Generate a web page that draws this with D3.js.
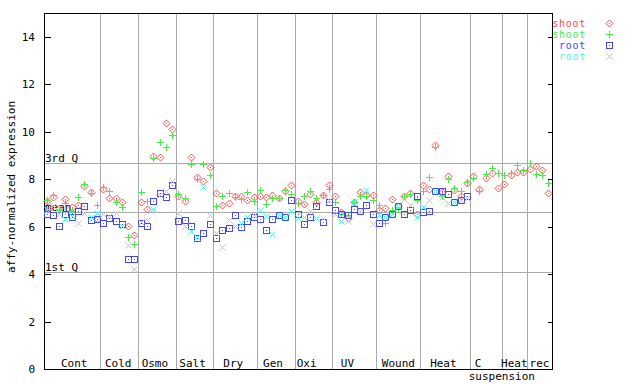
<!DOCTYPE html>
<html lang=en>
<head>
<meta charset="utf-8">
<script src="https://d3js.org/d3.v7.min.js"></script>
<style>
    body { margin: 0; background: #fff; }
    text { font-family: "DejaVu Sans Mono", monospace; font-size: 11px; fill: #000; }
    .legend text { font-size: 10px; letter-spacing: 0.7px; }
</style>
</head>
<body>
<div id="chart"></div>
<script>
// groups along the x axis, with number of samples in each
var groupNames = ["Cont", "Cold", "Osmo", "Salt", "Dry", "Gen", "Oxi", "UV", "Wound", "Heat", "C suspension", "Heat", "rec"];
var groupSizes = [9, 6, 6, 6, 7, 6, 6, 7, 7, 8, 5, 4, 4];

// shoot (red diamonds)
var shootRed = [7.08, 7.25, 6.78, 7.16, 6.82, 6.90, 7.72, 7.45, 6.31,
    7.58, 7.21, 7.21, 7.04, 6.03, 5.65,
    7.05, 6.75, 8.98, 8.93, 10.36, 10.11,
    7.30, 7.07, 8.93, 8.08, 7.91, 8.50,
    7.41, 6.90, 6.99, 7.29, 7.29, 7.13, 7.24,
    7.28, 7.24, 7.32, 7.20, 7.52, 7.75,
    7.07, 6.95, 7.37, 7.05, 7.32, 7.75,
    7.28, 6.61, 6.35, 7.05, 7.45, 7.32, 7.33,
    6.70, 6.78, 7.16, 6.88, 7.27, 7.42, 6.52,
    7.75, 7.58, 9.43, 7.45, 8.13, 7.55, 7.30, 7.83,
    8.13, 7.60, 8.04, 8.25, 7.62,
    7.79, 8.17, 8.29, 8.29,
    8.42, 8.55, 8.38, 7.41];

// shoot (green plus)
var shootGreen = [7.12, 7.32, 6.72, 6.99, 6.65, 7.25, 7.79, 7.40, 6.91,
    7.67, 7.51, 7.03, 6.84, 5.56, 5.27,
    7.45, 7.07, 8.88, 9.56, 9.35, 9.86,
    7.37, 7.20, 8.64, 8.00, 8.64, 8.17,
    6.86, 7.29, 7.41, 7.24, 7.16, 7.45, 7.07,
    7.53, 6.95, 7.20, 7.20, 7.53, 7.37,
    6.99, 7.28, 7.49, 7.20, 7.32, 7.58,
    7.03, 6.55, 6.50, 7.03, 7.28, 7.27, 7.12,
    6.90, 6.14, 6.72, 6.75, 7.28, 7.38, 7.11,
    7.49, 8.08, 9.35, 7.28, 8.00, 7.62, 7.49, 7.87,
    8.04, 7.49, 8.21, 8.46, 8.25,
    8.17, 8.25, 8.59, 8.38,
    8.67, 8.21, 8.17, 7.83];

// root (blue squares), no root samples for the suspension groups
var rootBlue = [6.54, 6.48, 6.03, 6.54, 6.40, 6.66, 6.87, 6.28, 6.31,
    6.15, 6.36, 6.23, 6.09, 4.63, 4.63,
    6.14, 6.02, 7.07, 7.41, 7.24, 7.75,
    6.24, 6.27, 6.02, 5.52, 5.72, 6.10,
    5.52, 5.85, 5.93, 6.48, 5.98, 6.23, 6.41,
    6.31, 5.85, 6.31, 6.48, 6.40, 7.11,
    6.52, 6.10, 6.40, 6.86, 6.18, 7.03,
    6.69, 6.52, 6.48, 6.73, 6.65, 6.90, 6.52,
    6.14, 6.40, 6.52, 6.86, 6.52, 6.69, 7.28,
    6.61, 6.65, 7.52, 7.49, 7.37, 7.04, 7.11, 7.28];

// root (cyan crosses)
var rootCyan = [6.70, 6.87, 6.55, 6.31, 6.45, 6.17, 6.57, 6.40, 6.57,
    6.52, 6.45, 6.57, 6.03, 5.22, 4.20,
    6.20, 6.28, 6.73, 7.35, 7.51, 7.93,
    6.57, 6.02, 5.81, 5.58, 7.66, 6.48,
    5.72, 5.13, 6.27, 6.02, 6.14, 6.40, 6.48,
    6.69, 6.44, 5.68, 6.48, 6.40, 6.65,
    6.35, 6.40, 6.65, 6.35, 6.35, 7.12,
    6.52, 6.23, 6.23, 7.03, 6.65, 7.53, 6.10,
    6.48, 6.40, 6.52, 6.87, 7.18, 6.90, 6.40,
    6.82, 7.11, 7.50, 7.24, 6.99, 7.04, 7.11, 7.20];

var yTicks = [0, 2, 4, 6, 8, 10, 12, 14];
var refNames = ["3rd Q", "mean", "1st Q"];
var refValues = [8.67, 6.60, 4.07];

var seriesNames = ["shoot", "shoot", "root", "root"];

// layout (plain names like "top" clash with window.top)
var W = 640, H = 384;
var plotL = 44, plotR = 552, plotT = 13, plotB = 369;
var nSamples = d3.sum(groupSizes);
// small nudges so the group labels sit where the original puts them
var labelShift = [2, -1, -2, -2, -2, -3, -7, -7, 0, -2, -8, 0, 0];

var svg = d3.select("#chart").append("svg")
    .attr("width", W).attr("height", H)
    .style("shape-rendering", "crispEdges");

var x = d3.scaleBand().domain(d3.range(nSamples)).range([plotL, plotR]);
var y = d3.scaleLinear().domain([0, 15]).range([plotB, plotT]);

function px(i) { return Math.floor(x(i) + x.bandwidth() / 2) + 0.5; }
function py(v) { return Math.round(y(v)) + 0.5; }

// group start indices
var starts = [];
var acc = 0;
groupSizes.forEach(function(s) { starts.push(acc); acc += s; });

// gray separators between groups
svg.append("g").selectAll("line")
    .data(starts.slice(1))
    .enter().append("line")
    .attr("x1", function(d) { return Math.round(x(d)) + 0.5; })
    .attr("x2", function(d) { return Math.round(x(d)) + 0.5; })
    .attr("y1", plotT).attr("y2", plotB)
    .attr("stroke", "#aaaaaa");

// quartile / mean lines
svg.append("g").selectAll("line")
    .data(refValues)
    .enter().append("line")
    .attr("x1", plotL).attr("x2", plotR)
    .attr("y1", function(d) { return py(d); })
    .attr("y2", function(d) { return py(d); })
    .attr("stroke", "#aaaaaa");

svg.append("g").selectAll("text")
    .data(refValues)
    .enter().append("text")
    .attr("x", plotL + 1)
    .attr("y", function(d) { return py(d) - 1.5; })
    .text(function(d, i) { return refNames[i]; });

// frame
svg.append("rect")
    .attr("x", plotL + 0.5).attr("y", plotT + 0.5)
    .attr("width", plotR - plotL).attr("height", plotB - plotT)
    .attr("fill", "none").attr("stroke", "#000");

// y axes, ticks inside on both sides
var yAxisL = svg.append("g")
    .attr("transform", "translate(" + (plotL + 0.5) + ",0)")
    .call(d3.axisRight(y).tickValues(yTicks).tickSize(6).tickFormat(""));
yAxisL.select(".domain").remove();
var yAxisR = svg.append("g")
    .attr("transform", "translate(" + (plotR + 0.5) + ",0)")
    .call(d3.axisLeft(y).tickValues(yTicks).tickSize(5).tickFormat(""));
yAxisR.select(".domain").remove();

svg.append("g").selectAll("text")
    .data(yTicks)
    .enter().append("text")
    .attr("x", 35)
    .attr("y", function(d) { return y(d) + 4; })
    .attr("text-anchor", "end")
    .text(function(d) { return d; });

svg.append("text")
    .attr("transform", "translate(15,187) rotate(-90)")
    .attr("text-anchor", "middle")
    .text("affy-normalized expression");

// group labels
svg.append("g").selectAll("text")
    .data(groupNames)
    .enter().append("text")
    .attr("x", function(d, i) { return x(starts[i]) + groupSizes[i] * x.bandwidth() / 2 + labelShift[i]; })
    .attr("y", 367)
    .attr("text-anchor", "middle")
    .each(function(d, i) {
        var parts = d.split(" ");
        var t = d3.select(this);
        t.append("tspan").text(parts[0]);
        if (parts.length > 1) {
            t.append("tspan")
                .attr("x", x(starts[i] + groupSizes[i]))
                .attr("dy", 13)
                .text(parts[1]);
        }
    });

// markers
var colors = ["#ff4848", "#44ee44", "#4444ff", "#5af0f0"];

function drawDiamond(g, c) {
    g.append("path").attr("d", "M0,-3.5L3.5,0L0,3.5L-3.5,0Z").attr("fill", "none").attr("stroke", c)
        .style("shape-rendering", "auto").attr("stroke-width", 1);
    g.append("rect").attr("x", -0.5).attr("y", -0.5).attr("width", 1).attr("height", 1)
        .attr("fill", c);
}
function drawPlus(g, c) {
    g.append("path").attr("d", "M-3.5,0H3.5M0,-3.5V3.5").attr("stroke", c).attr("stroke-width", 1);
}
function drawSquare(g, c) {
    g.append("rect").attr("x", -3).attr("y", -3).attr("width", 6).attr("height", 6)
        .attr("fill", "none").attr("stroke", c);
    g.append("rect").attr("x", -0.5).attr("y", -0.5).attr("width", 1).attr("height", 1)
        .attr("fill", c);
}
function drawCross(g, c) {
    g.append("path").attr("d", "M-3,-3L3,3M-3,3L3,-3").attr("stroke", c).attr("stroke-width", 1)
        .style("shape-rendering", "auto");
}
var drawers = [drawDiamond, drawPlus, drawSquare, drawCross];
var allSeries = [shootRed, shootGreen, rootBlue, rootCyan];

allSeries.forEach(function(vals, s) {
    svg.append("g").selectAll("g")
        .data(vals)
        .enter().append("g")
        .attr("transform", function(d, i) { return "translate(" + px(i) + "," + py(d) + ")"; })
        .each(function() { drawers[s](d3.select(this), colors[s]); });
});

// legend
var legend = svg.append("g").attr("class", "legend");
seriesNames.forEach(function(name, s) {
    var ly = 23 + s * 11;
    legend.append("text")
        .attr("x", 586).attr("y", ly + 3.5)
        .attr("text-anchor", "end")
        .style("fill", colors[s])
        .text(name);
    var g = legend.append("g").attr("transform", "translate(609.5," + (ly + 0.5) + ")");
    drawers[s](g, colors[s]);
});
</script>
</body>
</html>
